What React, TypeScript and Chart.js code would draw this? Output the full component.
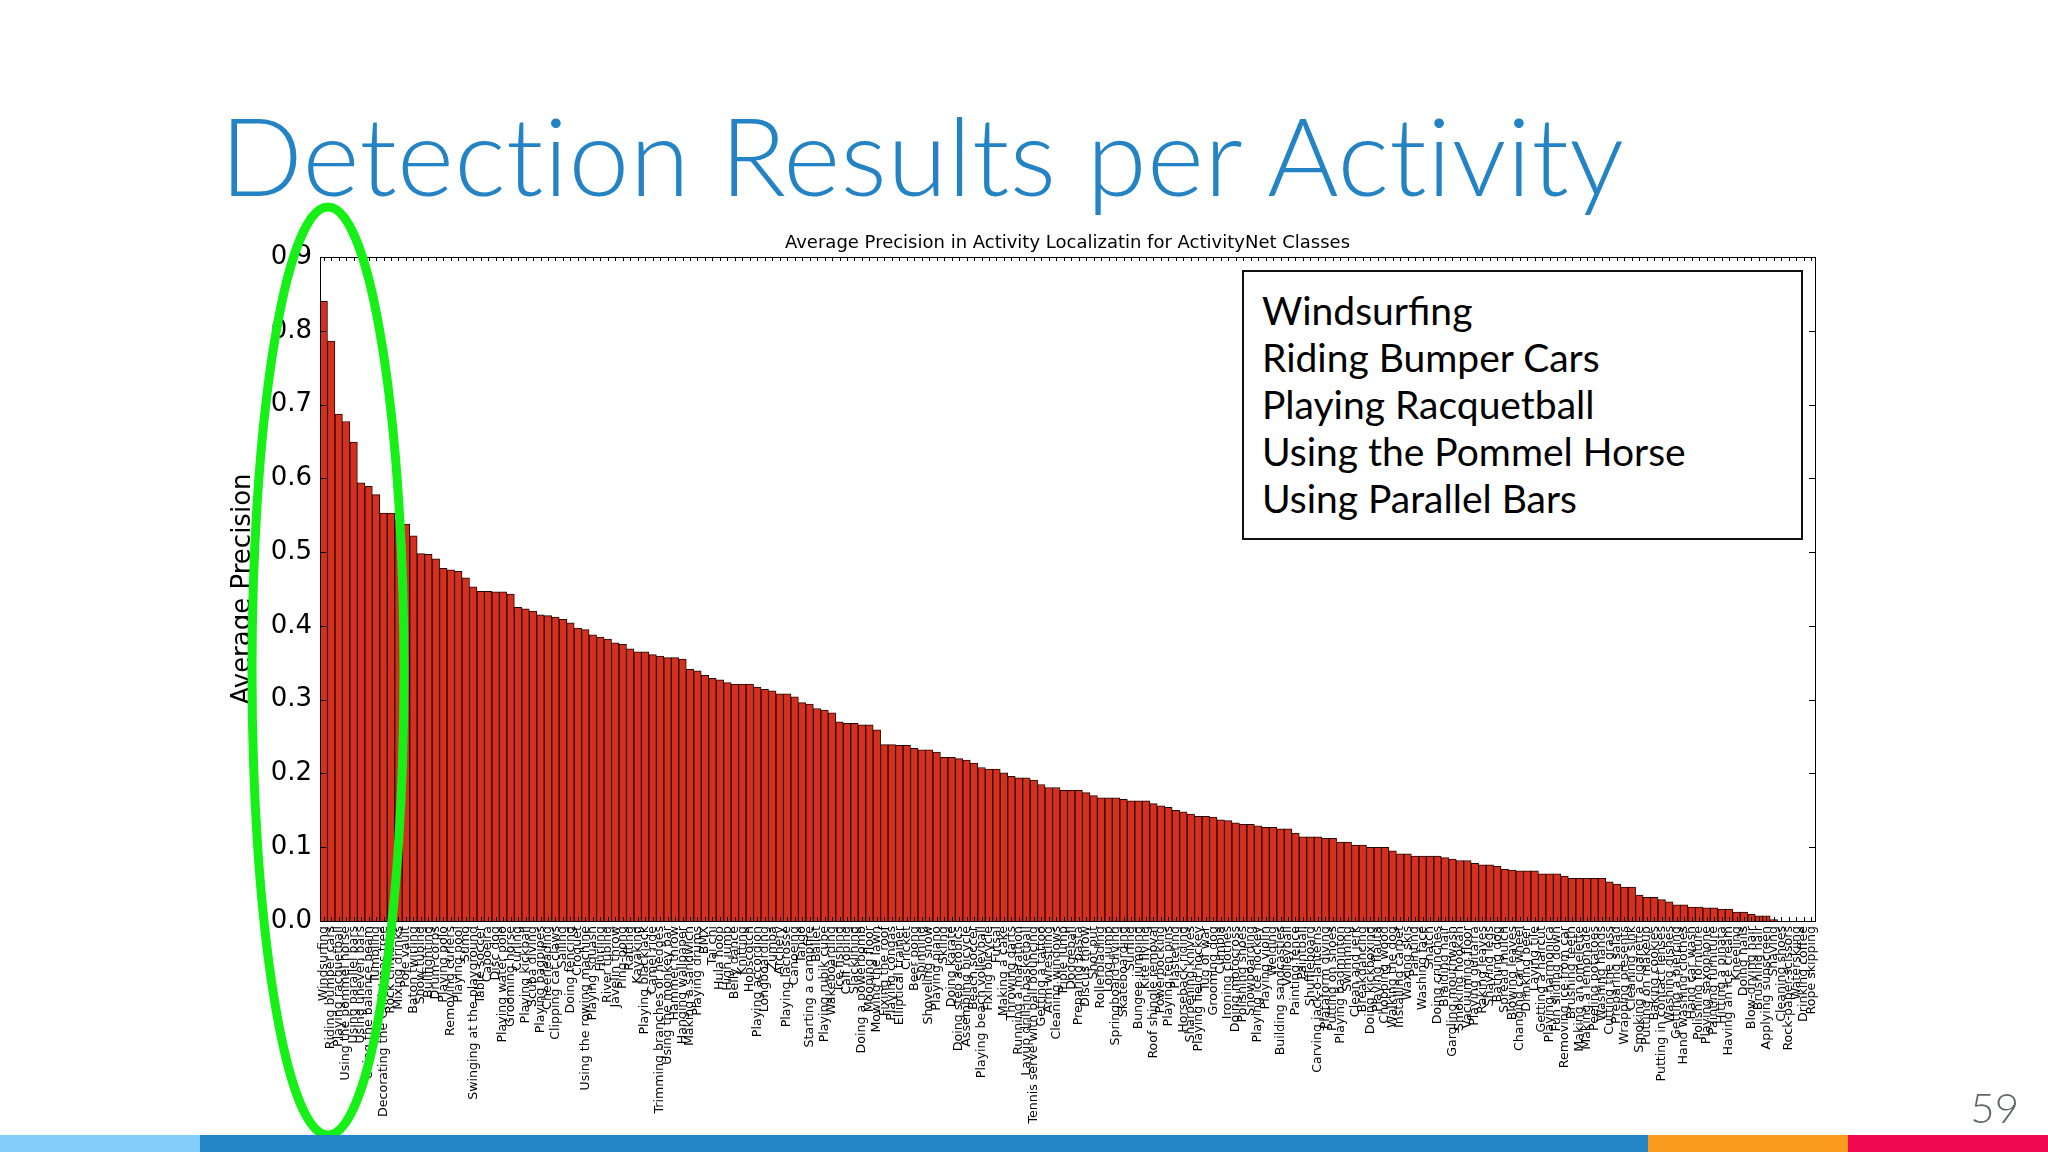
import { useEffect, useRef } from "react";
import { Chart, registerables, type ChartConfiguration, type Plugin } from "chart.js";

Chart.register(...registerables);

// ---- data ----
const slideTitle = "Detection Results per Activity";
const chartTitle = "Average Precision in Activity Localizatin for ActivityNet Classes";
const yAxisTitle = "Average Precision";
const pageNumber = "59";

const topActivities = [
  "Windsurfing",
  "Riding Bumper Cars",
  "Playing Racquetball",
  "Using the Pommel Horse",
  "Using Parallel Bars",
];

const yTicks = [0, 0.1, 0.2, 0.3, 0.4, 0.5, 0.6, 0.7, 0.8, 0.9];

const activities = [
  "Windsurfing", "Riding bumper cars", "Playing racquetball", "Using the pommel horse", "Using parallel bars",
  "Using uneven bars", "Using the balance beam", "Tumbling", "Decorating the Christmas tree", "Rock climbing",
  "Mixing drinks", "Pole vault", "Baton twirling", "Snow tubing", "Bullfighting",
  "Drum corps", "Playing polo", "Removing curlers", "Playing pool", "Sumo",
  "Swinging at the playground", "Table soccer", "Capoeira", "Disc dog", "Playing water polo",
  "Grooming horse", "Curling", "Playing kickball", "Scuba diving", "Playing bagpipes",
  "Cheerleading", "Clipping cat claws", "Sailing", "Doing fencing", "Croquet",
  "Using the rowing machine", "Playing squash", "Hurling", "River tubing", "Javelin throw",
  "Ping-pong", "Rafting", "Kayaking", "Playing blackjack", "Camel ride",
  "Trimming branches or hedges", "Using the monkey bar", "Hammer throw", "Hanging wallpaper", "Making a sandwich",
  "Playing drums", "BMX", "Tai chi", "Hula hoop", "High jump",
  "Belly dance", "Knitting", "Hopscotch", "Playing accordion", "Longboarding",
  "Zumba", "Archery", "Playing lacrosse", "Canoeing", "Tango",
  "Starting a campfire", "Ballet", "Playing rubik cube", "Wakeboarding", "Ice fishing",
  "Calf roping", "Slacklining", "Doing a powerbomb", "Mooping floor", "Mowing the lawn",
  "Fixing the roof", "Playing congas", "Elliptical trainer", "Cricket", "Beer pong",
  "Spinning", "Shoveling snow", "Playing piano", "Skiing", "Doing karate",
  "Doing step aerobics", "Assembling bicycle", "Beach soccer", "Playing beach volleyball", "Fixing bicycle",
  "Futsal", "Making a cake", "Throwing darts", "Running a marathon", "Layup drill in basketball",
  "Tennis serve with ball bouncing", "Getting a tattoo", "Arm wrestling", "Cleaning windows", "Triple jump",
  "Dodgeball", "Preparing pasta", "Discus throw", "Shot put", "Rollerblading",
  "Long jump", "Springboard diving", "Skateboarding", "Surfing", "Bungee jumping",
  "Kite flying", "Roof shingle removal", "Powerbocking", "Playing ten pins", "Plastering",
  "Horseback riding", "Sharpening knives", "Playing field hockey", "Tug of war", "Grooming dog",
  "Cumbia", "Ironing clothes", "Doing motocross", "Polishing shoes", "Snowboarding",
  "Playing ice hockey", "Playing violin", "Welding", "Building sandcastles", "Volleyball",
  "Painting fence", "Paintball", "Shuffleboard", "Carving jack-o-lanterns", "Plataform diving",
  "Putting on shoes", "Playing badminton", "Swimming", "Clean and jerk", "Breakdancing",
  "Doing kickboxing", "Playing flauta", "Chopping wood", "Walking the dog", "Installing carpet",
  "Waxing skis", "Painting", "Washing face", "Snatch", "Doing crunches",
  "Braiding hair", "Gargling mouthwash", "Smoking hookah", "Vacuuming floor", "Playing guitarra",
  "Raking leaves", "Shaving legs", "Bathing dog", "Spread mulch", "Blowing leaves",
  "Changing car wheel", "Drinking beer", "Laying tile", "Getting a haircut", "Playing harmonica",
  "Fun sliding down", "Removing ice from car", "Brushing teeth", "Making an omelette", "Making a lemonade",
  "Peeling potatoes", "Washing hands", "Cutting the grass", "Preparing salad", "Wrapping presents",
  "Cleaning sink", "Smoking a cigarette", "Putting on makeup", "Baking cookies", "Putting in contact lenses",
  "Washing dishes", "Getting a piercing", "Hand washing clothes", "Hand car wash", "Polishing forniture",
  "Playing saxophone", "Painting furniture", "Hitting a pinata", "Having an ice cream", "Kneeling",
  "Doing nails", "Blow-drying hair", "Brushing hair", "Applying sunscreen", "Shaving",
  "Cleaning shoes", "Rock-paper-scissors", "Waterskiing", "Drinking coffee", "Rope skipping",
];

const averagePrecision = [
  0.840, 0.786, 0.687, 0.677, 0.649, 0.594, 0.589, 0.578, 0.553, 0.553,
  0.544, 0.538, 0.522, 0.498, 0.497, 0.491, 0.478, 0.476, 0.474, 0.465,
  0.453, 0.447, 0.447, 0.446, 0.446, 0.443, 0.425, 0.423, 0.420, 0.415,
  0.414, 0.412, 0.409, 0.404, 0.397, 0.395, 0.388, 0.385, 0.382, 0.377,
  0.375, 0.369, 0.365, 0.365, 0.361, 0.359, 0.357, 0.357, 0.355, 0.341,
  0.339, 0.333, 0.329, 0.327, 0.323, 0.321, 0.321, 0.321, 0.317, 0.314,
  0.312, 0.308, 0.308, 0.304, 0.296, 0.294, 0.288, 0.286, 0.282, 0.270,
  0.268, 0.268, 0.266, 0.266, 0.259, 0.239, 0.239, 0.238, 0.238, 0.234,
  0.232, 0.232, 0.229, 0.222, 0.222, 0.220, 0.218, 0.214, 0.208, 0.206,
  0.206, 0.201, 0.196, 0.194, 0.194, 0.191, 0.185, 0.181, 0.181, 0.177,
  0.177, 0.177, 0.174, 0.170, 0.167, 0.167, 0.167, 0.165, 0.163, 0.163,
  0.163, 0.159, 0.156, 0.154, 0.150, 0.148, 0.145, 0.142, 0.142, 0.141,
  0.137, 0.136, 0.133, 0.131, 0.131, 0.129, 0.127, 0.127, 0.125, 0.125,
  0.119, 0.114, 0.114, 0.114, 0.112, 0.112, 0.107, 0.107, 0.103, 0.103,
  0.100, 0.100, 0.100, 0.095, 0.091, 0.091, 0.088, 0.088, 0.088, 0.088,
  0.086, 0.084, 0.082, 0.082, 0.078, 0.076, 0.076, 0.074, 0.070, 0.069,
  0.068, 0.068, 0.068, 0.064, 0.064, 0.064, 0.061, 0.058, 0.058, 0.058,
  0.058, 0.058, 0.053, 0.050, 0.046, 0.046, 0.035, 0.032, 0.032, 0.029,
  0.026, 0.022, 0.022, 0.019, 0.019, 0.018, 0.018, 0.016, 0.016, 0.012,
  0.012, 0.009, 0.007, 0.007, 0.002, 0, 0, 0, 0, 0,
];

const FONT = "'DejaVu Sans', sans-serif";

// matplotlib-like box: spines, inward ticks, title over the plot
const framePlugin: Plugin<"bar"> = {
  id: "frame",
  afterDraw(chart) {
    const { ctx, chartArea, scales } = chart;
    const { left, right, top, bottom } = chartArea;
    ctx.save();
    ctx.strokeStyle = "#000";
    ctx.lineWidth = 1;
    ctx.beginPath();
    yTicks.forEach((v) => {
      const y = Math.round(scales.y.getPixelForValue(v)) + 0.5;
      ctx.moveTo(left, y);
      ctx.lineTo(left + 6, y);
      ctx.moveTo(right, y);
      ctx.lineTo(right - 6, y);
    });
    activities.forEach((_, i) => {
      const x = Math.round(scales.x.getPixelForValue(i)) + 0.5;
      ctx.moveTo(x, top);
      ctx.lineTo(x, top + 4);
      ctx.moveTo(x, bottom);
      ctx.lineTo(x, bottom - 4);
    });
    ctx.stroke();
    ctx.strokeRect(
      Math.round(left) + 0.5,
      Math.round(top) + 0.5,
      Math.round(right - left),
      Math.round(bottom - top)
    );
    ctx.fillStyle = "#000";
    ctx.font = `18px ${FONT}`;
    ctx.textAlign = "center";
    ctx.textBaseline = "alphabetic";
    ctx.fillText(chartTitle, (left + right) / 2, top - 9);
    ctx.restore();
  },
};

function ActivityChart() {
  const canvasRef = useRef<HTMLCanvasElement>(null);

  useEffect(() => {
    if (!canvasRef.current) return;

    const config: ChartConfiguration<"bar"> = {
      type: "bar",
      data: {
        labels: activities,
        datasets: [
          {
            data: averagePrecision,
            backgroundColor: "#d5301e",
            borderColor: "#260600",
            borderWidth: 1,
            barPercentage: 1,
            categoryPercentage: 1,
          },
        ],
      },
      options: {
        responsive: false,
        animation: false,
        layout: { padding: { left: 0, right: 25, top: 37, bottom: 0 } },
        plugins: {
          legend: { display: false },
          tooltip: { enabled: false },
          title: { display: false },
        },
        scales: {
          x: {
            offset: true,
            grid: { display: false, drawTicks: false },
            border: { display: false },
            ticks: {
              autoSkip: false,
              minRotation: 90,
              maxRotation: 90,
              padding: 5,
              color: "#000",
              font: { family: FONT, size: 12.6 },
            },
            afterFit: (scale) => {
              scale.height = 215;
            },
          },
          y: {
            min: 0,
            max: 0.9,
            grid: { display: false, drawTicks: false },
            border: { display: false },
            afterBuildTicks: (scale) => {
              scale.ticks = yTicks.map((value) => ({ value }));
            },
            ticks: {
              padding: 8,
              color: "#000",
              font: { family: FONT, size: 26 },
              callback: (v) => Number(v).toFixed(1),
            },
            title: {
              display: true,
              text: yAxisTitle,
              color: "#000",
              font: { family: FONT, size: 26 },
              padding: { top: 28, bottom: 0 },
            },
            afterFit: (scale) => {
              scale.width = 120;
            },
          },
        },
      },
      plugins: [framePlugin],
    };

    const chart = new Chart(canvasRef.current, config);
    return () => chart.destroy();
  }, []);

  return (
    <canvas
      ref={canvasRef}
      width={1640}
      height={916}
      style={{ position: "absolute", left: 200, top: 220, width: 1640, height: 916 }}
    />
  );
}

const stripColors = [
  { color: "#82cdf9", width: 200 },
  { color: "#2185c6", width: 1448 },
  { color: "#f99b1c", width: 200 },
  { color: "#f0094e", width: 200 },
];

export default function App() {
  return (
    <div
      style={{
        position: "absolute",
        left: 0,
        top: 0,
        width: 2048,
        height: 1152,
        background: "#fff",
        overflow: "hidden",
        fontFamily: "Lato, sans-serif",
      }}
    >
      <div
        style={{
          position: "absolute",
          left: 220,
          top: 99,
          fontSize: 109,
          lineHeight: 1,
          fontWeight: 300,
          letterSpacing: 0.4,
          fontVariantLigatures: "none",
          color: "#2383c5",
          whiteSpace: "nowrap",
        }}
      >
        {slideTitle}
      </div>

      <ActivityChart />

      <div
        style={{
          position: "absolute",
          left: 1242,
          top: 270,
          width: 561,
          height: 270,
          boxSizing: "border-box",
          border: "2px solid #111",
          padding: "15px 0 0 18px",
          fontSize: 39,
          lineHeight: "47px",
          color: "#000",
          background: "#fff",
        }}
      >
        {topActivities.map((name) => (
          <div key={name}>{name}</div>
        ))}
      </div>

      <svg
        width={2048}
        height={1152}
        style={{ position: "absolute", left: 0, top: 0, pointerEvents: "none" }}
      >
        <ellipse cx={328} cy={671} rx={76} ry={464} fill="none" stroke="#17f017" strokeWidth={9} />
      </svg>

      <div
        style={{
          position: "absolute",
          right: 29,
          top: 1086,
          fontSize: 42,
          lineHeight: 1,
          fontWeight: 300,
          color: "#63666a",
        }}
      >
        {pageNumber}
      </div>

      <div style={{ position: "absolute", left: 0, top: 1135, height: 17, width: 2048, display: "flex" }}>
        {stripColors.map((s) => (
          <div key={s.color} style={{ width: s.width, height: 17, background: s.color }} />
        ))}
      </div>
    </div>
  );
}
